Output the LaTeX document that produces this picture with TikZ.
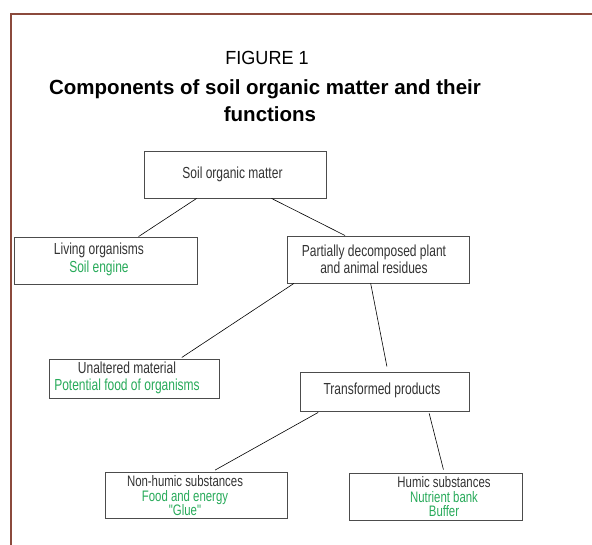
\documentclass[tikz,border=0pt]{standalone}
\usepackage{fontspec}
\setmainfont{Liberation Sans}
\newfontfamily\condfont[FakeStretch=0.75]{Liberation Sans}
\usetikzlibrary{calc}
\definecolor{framebrown}{RGB}{139,74,60}
\definecolor{rolegreen}{RGB}{40,170,90}
\tikzset{
  part/.style={draw=black!70, line width=0.9pt, inner sep=0pt},
  parttext/.style={text=black!80, font=\condfont\fontsize{16}{17.3}\selectfont, align=center, inner sep=0pt},
  smalltext/.style={parttext, font=\condfont\fontsize{15.2}{14.5}\selectfont},
  link/.style={black, line width=0.6pt}
}
\newcommand{\role}[1]{\textcolor{rolegreen}{#1}}

\begin{document}
\begin{tikzpicture}[x=1pt, y=-1pt]
    % Page size and frame
    \useasboundingbox (0,0) rectangle (592,545);
    \draw[framebrown, line width=2pt] (10.5,545) -- (10.5,14.5) -- (592,14.5);

    % Title
    \node[anchor=base, font=\fontsize{19}{19}\selectfont, xscale=0.95] (figno) at (267,65) {FIGURE 1};
    \node[anchor=base, font=\bfseries\fontsize{20.5}{20.5}\selectfont] (title) at (265,95) {Components of soil organic matter and their};
    \node[anchor=base, font=\bfseries\fontsize{20.5}{20.5}\selectfont] (titleend) at (270,122) {functions};

    % Boxes
    \node[part, minimum width=182, minimum height=47] (som) at (235,174.5) {};
    \node[part, minimum width=183, minimum height=47] (living) at (105.5,260.5) {};
    \node[part, minimum width=182, minimum height=47] (residues) at (378,259.5) {};
    \node[part, minimum width=170, minimum height=39] (unaltered) at (134,378.5) {};
    \node[part, minimum width=169, minimum height=39] (transformed) at (384.5,391.5) {};
    \node[part, minimum width=182, minimum height=46] (nonhumic) at (196,495) {};
    \node[part, minimum width=173, minimum height=47] (humic) at (435.5,496.5) {};

    % Texts in the boxes
    \node[parttext] (somtext) at (232.5,174) {Soil organic matter};
    \node[parttext] (livingtext) at (99,259.5) {Living organisms\\\role{Soil engine}};
    \node[parttext] (residuestext) at (374,259.5) {Partially decomposed plant\\and animal residues};
    \node[parttext] (unalteredtext) at (127,378) {Unaltered material\\\role{Potential food of organisms}};
    \node[parttext] (transformedtext) at (382,390) {Transformed products};
    \node[smalltext] (nonhumictext) at (185,496) {Non-humic substances\\\role{Food and energy}\\\role{"Glue"}};
    \node[smalltext] (humictext) at (444,497) {Humic substances\\\role{Nutrient bank}\\\role{Buffer}};

    % Connectors
    \draw[link] ($(som.south west)!.29!(som.south east)$) -- ($(living.north west)!.68!(living.north east)$);
    \draw[link] ($(som.south west)!.70!(som.south east)$) -- ($(residues.north west)!.32!(residues.north east)$);
    \draw[link, shorten >=2pt] ($(residues.south west)!.04!(residues.south east)$) -- ($(unaltered.north west)!.77!(unaltered.north east)$);
    \draw[link, shorten >=5pt] ($(residues.south west)!.46!(residues.south east)$) -- ($(transformed.north west)!.52!(transformed.north east)$);
    \draw[link, shorten <=2pt, shorten >=3pt] ($(transformed.south west)!.12!(transformed.south east)$) -- ($(nonhumic.north west)!.59!(nonhumic.north east)$);
    \draw[link, shorten <=2pt, shorten >=3pt] ($(transformed.south west)!.76!(transformed.south east)$) -- ($(humic.north west)!.55!(humic.north east)$);
\end{tikzpicture}
\end{document}
